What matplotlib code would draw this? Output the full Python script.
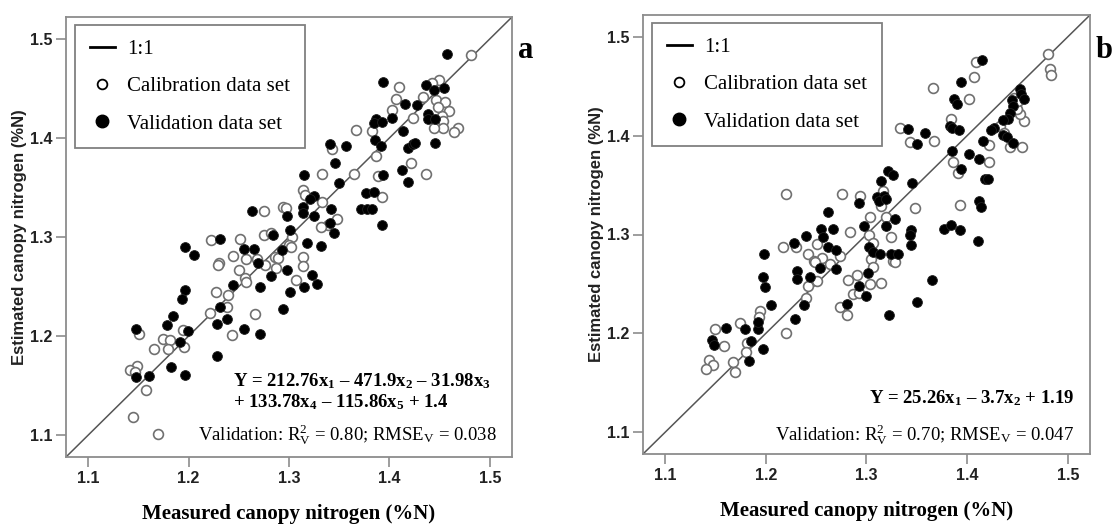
import matplotlib
matplotlib.use("Agg")
import matplotlib.pyplot as plt
import numpy as np
from matplotlib.lines import Line2D

plt.rcParams['mathtext.fontset'] = 'custom'
plt.rcParams['mathtext.rm'] = 'Liberation Serif'
plt.rcParams['mathtext.it'] = 'Liberation Serif:italic'
plt.rcParams['mathtext.bf'] = 'Liberation Serif:bold'

# panel a - calibration (open) and validation (filled), (measured, estimated)
a_cal = [(1.481, 1.484), (1.410, 1.451), (1.449, 1.458), (1.442, 1.455), (1.433, 1.441),
         (1.407, 1.439), (1.403, 1.428), (1.446, 1.438), (1.455, 1.436), (1.459, 1.427),
         (1.452, 1.422), (1.448, 1.431), (1.453, 1.417), (1.468, 1.410), (1.464, 1.406),
         (1.453, 1.410), (1.444, 1.410), (1.423, 1.420), (1.367, 1.408), (1.383, 1.407),
         (1.343, 1.389), (1.387, 1.382), (1.421, 1.375), (1.333, 1.364), (1.365, 1.364),
         (1.436, 1.364), (1.389, 1.362), (1.393, 1.340), (1.314, 1.347), (1.316, 1.342),
         (1.333, 1.335), (1.348, 1.318), (1.339, 1.312), (1.332, 1.310), (1.275, 1.326),
         (1.294, 1.330), (1.297, 1.329), (1.222, 1.297), (1.251, 1.298), (1.275, 1.302),
         (1.282, 1.304), (1.303, 1.300), (1.300, 1.292), (1.302, 1.290), (1.244, 1.281),
         (1.257, 1.278), (1.268, 1.278), (1.230, 1.274), (1.286, 1.280), (1.289, 1.279),
         (1.314, 1.280), (1.229, 1.272), (1.250, 1.267), (1.276, 1.272), (1.287, 1.269),
         (1.314, 1.271), (1.256, 1.259), (1.257, 1.255), (1.307, 1.257), (1.227, 1.245),
         (1.239, 1.241), (1.221, 1.223), (1.238, 1.229), (1.266, 1.222), (1.243, 1.201),
         (1.151, 1.202), (1.194, 1.206), (1.175, 1.197), (1.182, 1.196), (1.195, 1.189),
         (1.180, 1.187), (1.166, 1.187), (1.149, 1.170), (1.142, 1.166), (1.147, 1.164),
         (1.158, 1.146), (1.145, 1.118), (1.170, 1.101)]

a_val = [(1.457, 1.485), (1.394, 1.456), (1.436, 1.453), (1.444, 1.448), (1.454, 1.450),
         (1.415, 1.434), (1.427, 1.433), (1.403, 1.420), (1.387, 1.419), (1.385, 1.415),
         (1.393, 1.416), (1.438, 1.424), (1.438, 1.419), (1.445, 1.419), (1.413, 1.407),
         (1.386, 1.398), (1.392, 1.392), (1.418, 1.390), (1.423, 1.394), (1.425, 1.395),
         (1.445, 1.395), (1.341, 1.394), (1.357, 1.392), (1.346, 1.375), (1.315, 1.363),
         (1.350, 1.354), (1.394, 1.363), (1.412, 1.368), (1.418, 1.355), (1.377, 1.344),
         (1.385, 1.345), (1.325, 1.341), (1.321, 1.338), (1.314, 1.330), (1.314, 1.324),
         (1.372, 1.328), (1.378, 1.328), (1.383, 1.328), (1.342, 1.328), (1.263, 1.326),
         (1.298, 1.321), (1.325, 1.321), (1.393, 1.312), (1.301, 1.307), (1.341, 1.314),
         (1.345, 1.304), (1.284, 1.302), (1.231, 1.298), (1.318, 1.294), (1.332, 1.291),
         (1.196, 1.290), (1.205, 1.282), (1.255, 1.288), (1.265, 1.288), (1.293, 1.287),
         (1.269, 1.274), (1.298, 1.267), (1.323, 1.262), (1.282, 1.261), (1.244, 1.252),
         (1.271, 1.250), (1.315, 1.250), (1.328, 1.253), (1.196, 1.247), (1.301, 1.245),
         (1.193, 1.237), (1.231, 1.229), (1.294, 1.227), (1.185, 1.220), (1.238, 1.217),
         (1.179, 1.211), (1.228, 1.212), (1.148, 1.207), (1.199, 1.205), (1.255, 1.207),
         (1.271, 1.202), (1.191, 1.194), (1.228, 1.180), (1.183, 1.169), (1.196, 1.161),
         (1.148, 1.159), (1.161, 1.160)]

# panel b
b_cal = [(1.480, 1.483), (1.482, 1.467), (1.483, 1.461), (1.409, 1.474), (1.407, 1.459),
         (1.366, 1.448), (1.402, 1.437), (1.384, 1.417), (1.333, 1.408), (1.343, 1.394),
         (1.367, 1.395), (1.422, 1.391), (1.422, 1.373), (1.386, 1.373), (1.391, 1.362),
         (1.393, 1.330), (1.348, 1.327), (1.443, 1.388), (1.454, 1.388), (1.456, 1.415),
         (1.452, 1.422), (1.449, 1.427), (1.447, 1.438), (1.450, 1.435), (1.433, 1.410),
         (1.437, 1.403), (1.220, 1.341), (1.276, 1.341), (1.294, 1.339), (1.316, 1.344),
         (1.314, 1.329), (1.303, 1.318), (1.319, 1.318), (1.284, 1.303), (1.302, 1.300),
         (1.306, 1.291), (1.324, 1.297), (1.217, 1.287), (1.230, 1.287), (1.251, 1.290),
         (1.242, 1.280), (1.256, 1.276), (1.248, 1.273), (1.274, 1.278), (1.304, 1.275),
         (1.326, 1.273), (1.249, 1.272), (1.264, 1.270), (1.306, 1.267), (1.328, 1.272),
         (1.291, 1.259), (1.251, 1.253), (1.242, 1.248), (1.282, 1.254), (1.303, 1.250),
         (1.314, 1.251), (1.287, 1.240), (1.293, 1.241), (1.240, 1.236), (1.274, 1.227),
         (1.281, 1.219), (1.194, 1.223), (1.193, 1.217), (1.220, 1.200), (1.174, 1.210),
         (1.150, 1.204), (1.158, 1.187), (1.181, 1.190), (1.180, 1.181), (1.144, 1.173),
         (1.148, 1.168), (1.141, 1.164), (1.167, 1.171), (1.169, 1.161)]

b_val = [(1.415, 1.476), (1.394, 1.454), (1.387, 1.437), (1.390, 1.432), (1.341, 1.407),
         (1.350, 1.392), (1.358, 1.403), (1.383, 1.410), (1.385, 1.408), (1.392, 1.406),
         (1.385, 1.384), (1.402, 1.381), (1.416, 1.395), (1.412, 1.376), (1.394, 1.366),
         (1.418, 1.356), (1.421, 1.356), (1.412, 1.334), (1.414, 1.328), (1.377, 1.306),
         (1.384, 1.310), (1.393, 1.305), (1.411, 1.293), (1.452, 1.447), (1.453, 1.442),
         (1.456, 1.437), (1.445, 1.436), (1.446, 1.430), (1.443, 1.423), (1.441, 1.417),
         (1.436, 1.416), (1.427, 1.408), (1.424, 1.406), (1.436, 1.401), (1.440, 1.399),
         (1.446, 1.393), (1.345, 1.352), (1.314, 1.354), (1.321, 1.364), (1.326, 1.360),
         (1.310, 1.338), (1.317, 1.339), (1.312, 1.334), (1.319, 1.336), (1.293, 1.332),
         (1.262, 1.323), (1.328, 1.316), (1.319, 1.309), (1.298, 1.309), (1.344, 1.305),
         (1.343, 1.300), (1.344, 1.289), (1.267, 1.306), (1.255, 1.306), (1.257, 1.297),
         (1.240, 1.298), (1.228, 1.291), (1.262, 1.287), (1.270, 1.284), (1.302, 1.287),
         (1.306, 1.282), (1.313, 1.280), (1.324, 1.280), (1.331, 1.280), (1.198, 1.280),
         (1.197, 1.257), (1.199, 1.247), (1.231, 1.263), (1.231, 1.255), (1.244, 1.257),
         (1.254, 1.266), (1.270, 1.265), (1.301, 1.261), (1.300, 1.238), (1.293, 1.248),
         (1.281, 1.230), (1.322, 1.219), (1.350, 1.232), (1.365, 1.254), (1.238, 1.229),
         (1.229, 1.215), (1.205, 1.229), (1.160, 1.205), (1.179, 1.204), (1.192, 1.204),
         (1.192, 1.211), (1.147, 1.193), (1.149, 1.188), (1.185, 1.192), (1.197, 1.184),
         (1.183, 1.172)]

ticks = [1.1, 1.2, 1.3, 1.4, 1.5]
tick_labels = ["1.1", "1.2", "1.3", "1.4", "1.5"]
lims = (1.078, 1.522)

eq_a = ["Y = 212.76x$_\\mathbf{1}$ \u2013 471.9x$_\\mathbf{2}$ \u2013 31.98x$_\\mathbf{3}$",
        "+ 133.78x$_\\mathbf{4}$ \u2013 115.86x$_\\mathbf{5}$ + 1.4"]
eq_b = "Y = 25.26x$_\\mathbf{1}$ \u2013 3.7x$_\\mathbf{2}$ + 1.19"
val_a = "Validation: R$^\\mathrm{2}_\\mathrm{V}$ = 0.80; RMSE$_\\mathrm{V}$ = 0.038"
val_b = "Validation: R$^\\mathrm{2}_\\mathrm{V}$ = 0.70; RMSE$_\\mathrm{V}$ = 0.047"

serif = "Liberation Serif"
sans = "Liberation Sans"
frame_col = "#8c8c8c"

fig = plt.figure(figsize=(11.15, 5.24), dpi=100)
ax_a = fig.add_axes([66/1115, 1 - 457/524, 446/1115, 440/524])
ax_b = fig.add_axes([643/1115, 1 - 454/524, 447/1115, 439/524])


def draw(ax, cal, val, letter):
    cal = np.array(cal)
    val = np.array(val)
    ax.axline((1.1, 1.1), (1.5, 1.5), color="#555555", lw=1.1, zorder=1)
    ax.scatter(cal[:, 0], cal[:, 1], s=50, facecolors="white", edgecolors="#707070",
               linewidths=1.2, zorder=2)
    ax.scatter(val[:, 0], val[:, 1], s=50, facecolors="black", edgecolors="#222222",
               linewidths=0.6, zorder=3)
    ax.set_xlim(lims)
    ax.set_ylim(lims)
    ax.set_xticks(ticks)
    ax.set_yticks(ticks)
    ax.set_xticklabels(tick_labels, fontfamily=sans, fontweight="bold", fontsize=11.5, color="#222222")
    ax.set_yticklabels(tick_labels, fontfamily=sans, fontweight="bold", fontsize=11.5, color="#222222")
    ax.tick_params(length=7, width=1.2, color=frame_col, pad=3)
    for sp in ax.spines.values():
        sp.set_color(frame_col)
        sp.set_linewidth(1.3)
    ax.set_xlabel("Measured canopy nitrogen (%N)", fontfamily=serif, fontweight="bold",
                  fontsize=15, labelpad=13)
    ax.set_ylabel("Estimated canopy nitrogen (%N)", fontfamily=sans, fontweight="bold",
                  fontsize=12, labelpad=2, color="#222222")
    handles = [Line2D([], [], color="black", lw=2),
               Line2D([], [], ls="none", marker="o", ms=7, mfc="white", mec="black", mew=1.3),
               Line2D([], [], ls="none", marker="o", ms=9, mfc="black", mec="black")]
    leg = ax.legend(handles, ["1:1", "Calibration data set", "Validation data set"],
                    loc="upper left", bbox_to_anchor=(0.02, 0.982), borderaxespad=0,
                    prop={"family": serif, "size": 15}, frameon=True, fancybox=False,
                    framealpha=1, edgecolor="#808080", handlelength=1.2, labelspacing=0.85,
                    borderpad=0.7, handletextpad=0.6)
    leg.get_frame().set_linewidth(1.3)
    fig.text(ax.get_position().x1 + 6/1115, 1 - 50/524, letter, fontfamily=serif,
             fontweight="bold", fontsize=22, ha="left", va="center")


draw(ax_a, a_cal, a_val, "a")
draw(ax_b, b_cal, b_val, "b")

ax_a.text(0.375, 0.172, eq_a[0], transform=ax_a.transAxes, fontfamily=serif,
          fontweight="bold", fontsize=13.5, va="center", ha="left")
ax_a.text(0.375, 0.125, eq_a[1], transform=ax_a.transAxes, fontfamily=serif,
          fontweight="bold", fontsize=13.5, va="center", ha="left")
ax_a.text(0.965, 0.05, val_a, transform=ax_a.transAxes, fontfamily=serif,
          fontsize=13.5, va="center", ha="right")
ax_b.text(0.965, 0.128, eq_b, transform=ax_b.transAxes, fontfamily=serif,
          fontweight="bold", fontsize=13.5, va="center", ha="right")
ax_b.text(0.965, 0.045, val_b, transform=ax_b.transAxes, fontfamily=serif,
          fontsize=13.5, va="center", ha="right")

fig.savefig("out.png", dpi=100)
